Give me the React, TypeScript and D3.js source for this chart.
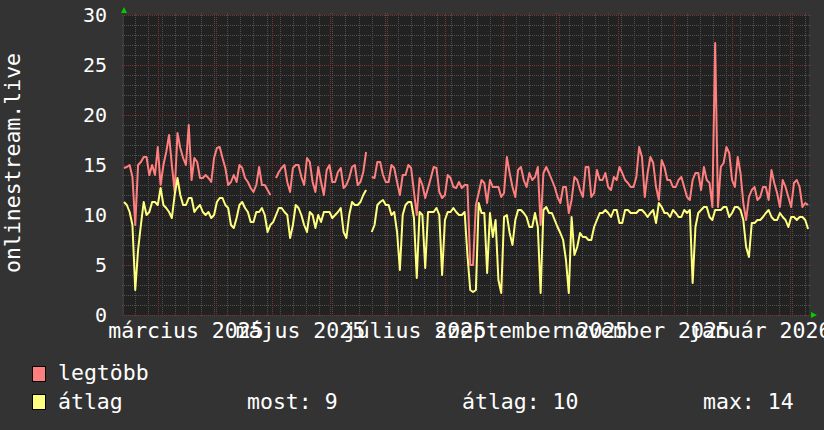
import React from "react";
import * as d3 from "d3";

// one sample every 36 hours from START
const START = new Date(2025, 1, 11);
const END = new Date(2026, 1, 11);
const STEP_HOURS = 36;

// legtöbb (max) — red
const maxValues: (number | null)[] = [
  14.7, 14.8, 15, 13.8, 9, 15, 15.3, 15.8, 15.8, 14,
  15, 14, 16.8, 13, 15, 16.3, 18, 15, 12.3, 18.2,
  16.7, 15.7, 15, 19, 13.5, 15.7, 15.3, 13.7, 13.7, 14,
  13.7, 13.3, 15.7, 16.7, 16.8, 15.7, 14.7, 13, 13.3, 14,
  13.3, 15, 14.7, 13.7, 13.3, 12.7, 12.3, 13, 14.8, 13,
  13, 12.5, 12, null, 13.7, 14.3, 14.7, 15, 13.3, 12.3,
  14.7, 15, 15, 13.8, 13, 15.7, 15.3, 13.3, 12.3, 14.8,
  13.3, 12, 14.5, 15, 13.3, 13.3, 14.3, 14.7, 12.7, 13,
  13.7, 14.8, 15, 13, 13.3, 14.3, 16.3, null, 13.8, 13.7,
  15.3, 15.3, 14, 13.3, 13.3, 15, 14.7, 13.3, 12, 14,
  14, 15, 14.7, 12.3, 10, 13.7, 13, 11.7, 12.7, 13.7,
  14.8, 14.7, 12.3, 11.7, 12, 14, 13.7, 12.8, 12.7, 13.3,
  12.7, 13, 13, 5, 5, 11, 12.2, 13.5, 13.2, 11.2,
  13.5, 12.8, 12.8, 12.8, 11.8, 12.2, 15.8, 14.2, 12.8, 11.8,
  14.5, 14.8, 13.5, 12.8, 14.2, 13.5, 13.8, 14.8, 9, 14.2,
  14.8, 14.2, 13.5, 12.8, 11.8, 11.2, 12.8, 12.8, 10.2, 11.5,
  13.8, 13.5, 12.5, 11.8, 14.8, 14.8, 11.8, 12.2, 14.5, 13.5,
  13.5, 14.2, 12.8, 12.5, 13.8, 13.5, 14.8, 14.2, 13.5, 13.2,
  12.8, 12.8, 13.8, 16.8, 15.8, 11.8, 14.2, 15.8, 15.2, 12.8,
  11.5, 15.5, 14.8, 13.5, 13.5, 12.8, 12.8, 13.5, 13.8, 12.8,
  11.8, 11.5, 13.5, 14.2, 14.2, 12.5, 14.8, 13.5, 13.2, 10.8,
  27.2, 10.8, 14.8, 15.2, 16.8, 16.2, 13.5, 12.8, 15.8, 14.2,
  11.2, 9.5, 11.8, 12.5, 12.8, 11.5, 11.8, 12.8, 12.8, 11.5,
  14.5, 13.2, 12.2, 10.8, 13.5, 12.8, 11.8, 10.8, 13.2, 13.5,
  12.8, 10.8, 11.2, 11,
];

// átlag (average) — yellow
const avgValues: (number | null)[] = [
  11.3, 11, 10.3, 9, 2.5, 6.5, 9, 11.3, 10, 10.3,
  11.3, 11.3, 11, 12.7, 11, 10.7, 10.3, 9.7, 12, 13.7,
  12, 11, 11, 11.7, 11.7, 10.3, 10.7, 11, 10.3, 10,
  10.3, 9.7, 10, 11.3, 11.7, 11.7, 11, 10.7, 9, 8.7,
  9.7, 11, 11.3, 10.7, 10.3, 9.3, 9.3, 10.3, 10.3, 10.7,
  10, 8.3, 9, 9.3, 10, 10.7, 10.7, 10.3, 10, 7.7,
  9, 11, 10.7, 10, 9, 8.3, 10.3, 10, 8.7, 10,
  9.3, 10.3, 10.3, 10.3, 9.7, 10, 10.3, 10.7, 8.3, 7.7,
  10, 11.3, 11, 11, 11.3, 12, 12.5, null, 8.3, 9,
  11, 11.3, 11.5, 11, 11, 10, 10.3, 8.3, 4.5, 10,
  11, 11.3, 11.3, 9.7, 3.7, 10.3, 10, 4.7, 10.3, 10.3,
  10.3, 10.7, 10, 4, 9.5, 10.3, 10.3, 10.7, 10.3, 10,
  10, 10.3, 6, 2.5, 2.3, 2.5, 11.2, 10.2, 10.2, 4.2,
  10.2, 7.8, 9.5, 3.5, 2.2, 9.8, 10, 8.2, 7, 9.5,
  10.5, 10.5, 10.2, 9.8, 8.8, 8.8, 10.2, 8.8, 2.2, 10.5,
  10.8, 10.2, 10.2, 9.5, 8.8, 8.2, 7.5, 5.5, 2.2, 9.8,
  6, 6.8, 8.2, 7.8, 7.8, 7.5, 7.5, 8.8, 9.5, 10.2,
  10.2, 10.5, 10.2, 9.8, 10.5, 10.5, 9.2, 9.2, 10.5, 10.5,
  10.2, 10.2, 10.2, 10.5, 10.5, 10.2, 9.8, 10.2, 10.5, 9.2,
  11.2, 10.8, 10.2, 10.2, 9.8, 10.5, 10.2, 9.8, 9.8, 10.5,
  10.2, 10.5, 3.2, 8.8, 10.2, 10.5, 10.8, 10.8, 9.8, 9.5,
  10.5, 10.5, 10.5, 10.8, 10.8, 9.8, 10.2, 10.8, 10.8, 10.5,
  9.5, 6.8, 5.8, 9.2, 9.2, 9.5, 9.5, 9.8, 10.2, 10.5,
  9.8, 9.5, 9.5, 10.2, 9.8, 9.5, 8.8, 9.8, 9.8, 9.5,
  9.8, 9.8, 9.5, 8.6,
];

const yTicks = [0, 5, 10, 15, 20, 25, 30];
const monthLabels = [
  "március 2025",
  "május 2025",
  "július 2025",
  "szeptember 2025",
  "november 2025",
  "január 2026",
];
const labelMonths = [
  new Date(2025, 2, 1),
  new Date(2025, 4, 1),
  new Date(2025, 6, 1),
  new Date(2025, 8, 1),
  new Date(2025, 10, 1),
  new Date(2026, 0, 1),
];

const legendStats = ["most: 9", "átlag: 10", "max: 14"];

const W = 824;
const H = 430;
const X0 = 124;
const X1 = 809;
const Y0 = 15;
const Y1 = 315;

const BG = "#333333";
const CANVAS = "#222222";
const MINOR = "#505050";
const MAJOR = "#7a3434";
const RED = "#ff7f7f";
const YELLOW = "#ffff7f";
const FONT = "'DejaVu Sans Mono', monospace";

const dateAt = (i: number) => d3.timeHour.offset(START, i * STEP_HOURS);

export default function App() {
  const x = d3.scaleTime().domain([START, END]).range([X0, X1]);
  const y = d3.scaleLinear().domain([0, 30]).range([Y1, Y0]);

  const line = d3
    .line<number | null>()
    .defined((d) => d != null)
    .x((_, i) => x(dateAt(i)))
    .y((d) => y(d as number));

  const minorH = d3.range(0, 31).filter((v) => v % 5 !== 0);
  const mondays = d3.timeMonday.range(START, END);
  const months = d3.timeMonth.range(START, END);

  return (
    <svg
      width={W}
      height={H}
      style={{ position: "absolute", left: 0, top: 0, display: "block" }}
    >
      <rect width={W} height={H} fill={BG} />
      <rect x={X0} y={Y0} width={X1 - X0} height={Y1 - Y0} fill={CANVAS} />
      <line x1={X0 - 1} x2={X0 - 1} y1={Y0} y2={Y1} stroke="#3a3a3a" strokeWidth={2} />

      {/* grid */}
      <g strokeWidth={1} strokeDasharray="1,1" shapeRendering="crispEdges">
        {minorH.map((v) => (
          <line key={"h" + v} x1={X0 - 2} x2={X1 + 2} y1={y(v) + 0.5} y2={y(v) + 0.5} stroke={MINOR} />
        ))}
        {mondays.map((d) => (
          <line key={"m" + +d} x1={Math.round(x(d)) + 0.5} x2={Math.round(x(d)) + 0.5} y1={Y0 - 2} y2={Y1 + 2} stroke={MINOR} />
        ))}
        {yTicks.map((v) => (
          <line key={"H" + v} x1={X0 - 2} x2={X1 + 2} y1={y(v) + 0.5} y2={y(v) + 0.5} stroke={MAJOR} />
        ))}
        {months.map((d) => (
          <line key={"M" + +d} x1={Math.round(x(d)) + 0.5} x2={Math.round(x(d)) + 0.5} y1={Y0 - 2} y2={Y1 + 2} stroke={MAJOR} />
        ))}
      </g>

      {/* series */}
      <path d={line(maxValues) || ""} fill="none" stroke={RED} strokeWidth={2} strokeLinejoin="round" />
      <path d={line(avgValues) || ""} fill="none" stroke={YELLOW} strokeWidth={2} strokeLinejoin="round" />

      {/* arrows */}
      <path d={`M${X0 - 3},${Y0 - 2} L${X0 + 3},${Y0 - 2} L${X0},${Y0 - 8} Z`} fill="#00cc00" />
      <path d={`M${X1 + 2},${Y1 - 3} L${X1 + 2},${Y1 + 3} L${X1 + 8},${Y1} Z`} fill="#00cc00" />

      {/* y axis labels */}
      <g fill="#ffffff" fontFamily={FONT} fontSize={20} textAnchor="end">
        {yTicks.map((v) => (
          <text key={v} x={107} y={y(v)} dominantBaseline="central">
            {v}
          </text>
        ))}
      </g>

      {/* x axis labels */}
      <g fill="#ffffff" fontFamily={FONT} fontSize={21.5} textAnchor="middle">
        {labelMonths.map((d, i) => (
          <text key={i} x={x(d3.timeDay.offset(d, 15))} y={338}>
            {monthLabels[i]}
          </text>
        ))}
      </g>

      {/* y title */}
      <text
        transform={`translate(20, 163) rotate(-90)`}
        fill="#ffffff"
        fontFamily={FONT}
        fontSize={21.5}
        textAnchor="middle"
      >
        onlinestream.live
      </text>

      {/* legend */}
      <g fontFamily={FONT} fontSize={21.5} fill="#ffffff">
        <rect x={32.5} y={366.5} width={13} height={15} fill={RED} stroke="#000" />
        <text x={58} y={380}>legtöbb</text>
        <rect x={32.5} y={394.5} width={13} height={15} fill={YELLOW} stroke="#000" />
        <text x={58} y={409}>átlag</text>
        <text x={247} y={409}>{legendStats[0]}</text>
        <text x={462} y={409}>{legendStats[1]}</text>
        <text x={703} y={409}>{legendStats[2]}</text>
      </g>
    </svg>
  );
}
